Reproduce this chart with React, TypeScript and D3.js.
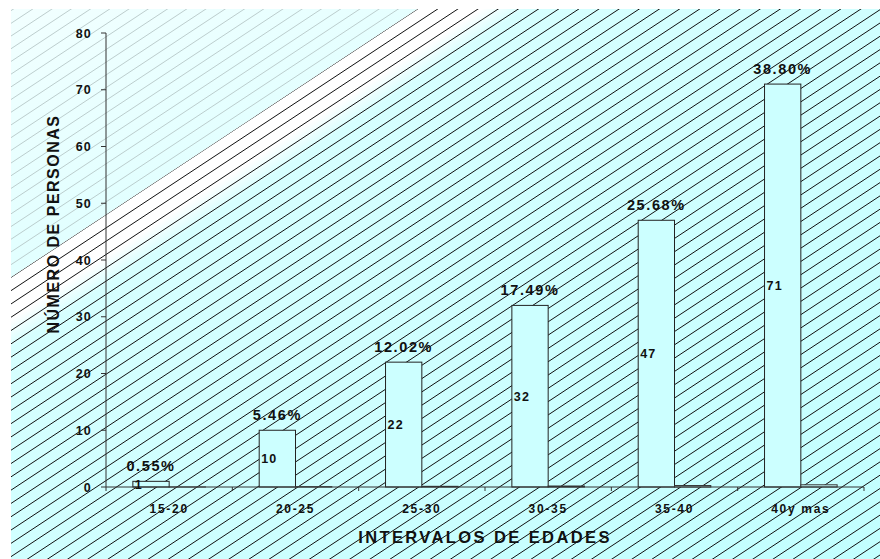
import React from 'react';
import * as d3 from 'd3';

// Age intervals and the number of people in each
const categories = ['15-20', '20-25', '25-30', '30-35', '35-40', '40y mas'];
const counts = [1, 10, 22, 32, 47, 71];
// Share of the total, in percent (also plotted as a fraction on the same axis)
const percents = [0.55, 5.46, 12.02, 17.49, 25.68, 38.8];
const yTicks = [0, 10, 20, 30, 40, 50, 60, 70, 80];

const W = 880;
const H = 559;
const FONT = '"Liberation Sans", Arial, sans-serif';

// Chart-area frame
const bgX0 = 11;
const bgY0 = 9;

// Plot area
const plot = { left: 106, right: 864, top: 33, bottom: 487 };

// Background hatching: lines of the form y + k*x = c
const K = 0.66;
const C0 = 284.6; // border between the light and the hatched zone
const darkStep = 13.3;
const lightStep = 12.7;

export default function App() {
  const y = d3.scaleLinear().domain([0, 80]).range([plot.bottom, plot.top]);
  const x = d3.scaleBand<string>().domain(categories).range([plot.left, plot.right]).paddingInner(0).paddingOuter(0);
  const inner = d3
    .scaleBand<string>()
    .domain(['count', 'share'])
    .range([0, x.bandwidth()])
    .paddingInner(0)
    .paddingOuter(0.74);

  const maxC = H + K * W;
  const darkLines = d3.range(C0, maxC + darkStep, darkStep);
  const lightLines = d3.range(C0 - lightStep, bgY0 + K * bgX0 - lightStep, -lightStep);

  const yLeftEdge = C0 - K * bgX0; // y where the border meets the left edge
  const xTopEdge = (C0 - bgY0) / K; // x where the border meets the top edge

  const lowerPoly = [
    [bgX0, yLeftEdge],
    [xTopEdge, bgY0],
    [W, bgY0],
    [W, H],
    [bgX0, H],
  ];
  const upperPoly = [
    [bgX0, bgY0],
    [xTopEdge, bgY0],
    [bgX0, yLeftEdge],
  ];
  const pts = (p: number[][]) => p.map((d) => d.join(',')).join(' ');

  // unit normal to the hatch lines, pointing into the hatched zone
  const nLen = Math.sqrt(K * K + 1);
  const nx = K / nLen;
  const ny = 1 / nLen;
  const gx0 = 110;
  const gy0 = C0 - K * gx0;

  const lineSeg = (c: number) => {
    const x1 = bgX0 - 5;
    const x2 = W + 5;
    return { x1, y1: c - K * x1, x2, y2: c - K * x2 };
  };

  return (
    <div style={{ position: 'fixed', left: 0, top: 0 }}>
      <svg width={W} height={H} style={{ display: 'block', background: '#fff' }}>
        <defs>
          <clipPath id="bgClip">
            <rect x={bgX0} y={bgY0} width={W - bgX0} height={H - bgY0} />
          </clipPath>
          <clipPath id="lowerClip">
            <polygon points={pts(lowerPoly)} />
          </clipPath>
          <clipPath id="upperClip">
            <polygon points={pts(upperPoly)} />
          </clipPath>
          <linearGradient
            id="lowerFill"
            gradientUnits="userSpaceOnUse"
            x1={gx0}
            y1={gy0}
            x2={gx0 + nx * 700}
            y2={gy0 + ny * 700}
          >
            <stop offset="0" stopColor="#ffffff" />
            <stop offset="0.05" stopColor="#ffffff" />
            <stop offset="0.085" stopColor="#d6ffff" />
            <stop offset="1" stopColor="#c2ffff" />
          </linearGradient>
          <linearGradient id="upperFill" gradientUnits="userSpaceOnUse" x1={bgX0} y1={bgY0} x2={gx0} y2={gy0}>
            <stop offset="0" stopColor="#f2ffff" />
            <stop offset="1" stopColor="#e2ffff" />
          </linearGradient>
        </defs>

        {/* background */}
        <g clipPath="url(#bgClip)">
          <polygon points={pts(upperPoly)} fill="url(#upperFill)" />
          <polygon points={pts(lowerPoly)} fill="url(#lowerFill)" />
          <g clipPath="url(#upperClip)">
            {lightLines.map((c, i) => {
              const s = lineSeg(c);
              return <line key={i} {...s} stroke="#b0c0c0" strokeWidth={0.8} />;
            })}
          </g>
          <g clipPath="url(#lowerClip)">
            {darkLines.map((c, i) => {
              const s = lineSeg(c);
              return <line key={i} {...s} stroke="#111" strokeWidth={1} />;
            })}
          </g>
        </g>

        {/* y axis */}
        <line x1={plot.left} x2={plot.left} y1={y(80)} y2={y(0)} stroke="#333" strokeWidth={1} />
        {yTicks.map((t) => (
          <g key={t}>
            <line x1={plot.left - 5} x2={plot.left} y1={y(t)} y2={y(t)} stroke="#333" />
            <text
              x={92}
              y={y(t)}
              dy="0.36em"
              textAnchor="end"
              fontFamily={FONT}
              fontWeight="bold"
              fontSize={12.5}
              letterSpacing={1.2}
              fill="#111"
            >
              {t}
            </text>
          </g>
        ))}

        {/* bars: counts and shares */}
        {categories.map((cat, i) => {
          const bx = (x(cat) as number) + (inner('count') as number);
          const sx = (x(cat) as number) + (inner('share') as number);
          const bw = inner.bandwidth();
          const top = y(counts[i]);
          const stop = y(percents[i] / 100);
          return (
            <g key={cat}>
              <rect
                x={bx}
                y={top}
                width={bw}
                height={y(0) - top}
                fill="#ccffff"
                stroke="#222"
                strokeWidth={1}
              />
              <rect
                x={sx}
                y={stop}
                width={bw}
                height={Math.max(0, y(0) - stop)}
                fill="#ccffff"
                stroke="#333"
                strokeWidth={1}
              />
            </g>
          );
        })}

        {/* x axis */}
        <line x1={plot.left} x2={plot.right} y1={y(0)} y2={y(0)} stroke="#333" strokeWidth={1} />
        {categories.map((cat) => (
          <line
            key={cat}
            x1={x(cat) as number}
            x2={x(cat) as number}
            y1={y(0)}
            y2={y(0) + 4}
            stroke="#333"
          />
        ))}
        <line x1={plot.right} x2={plot.right} y1={y(0)} y2={y(0) + 4} stroke="#333" />
        {categories.map((cat) => (
          <text
            key={cat}
            x={(x(cat) as number) + x.bandwidth() / 2}
            y={513}
            textAnchor="middle"
            fontFamily={FONT}
            fontWeight="bold"
            fontSize={12}
            letterSpacing={1.7}
            fill="#111"
          >
            {cat}
          </text>
        ))}

        {/* value labels inside the bars */}
        {categories.map((cat, i) => {
          const bx = (x(cat) as number) + (inner('count') as number);
          const mid = (y(counts[i]) + y(0)) / 2;
          return (
            <text
              key={cat}
              x={bx + 2}
              y={mid}
              dy="0.36em"
              fontFamily={FONT}
              fontWeight="bold"
              fontSize={12.5}
              letterSpacing={1.2}
              fill="#111"
            >
              {counts[i]}
            </text>
          );
        })}

        {/* percentage labels above the bars */}
        {categories.map((cat, i) => {
          const cx = (x(cat) as number) + (inner('count') as number) + inner.bandwidth() / 2;
          return (
            <text
              key={cat}
              x={cx}
              y={y(counts[i]) - 10}
              textAnchor="middle"
              fontFamily={FONT}
              fontWeight="bold"
              fontSize={14.5}
              letterSpacing={1.6}
              fill="#111"
            >
              {percents[i].toFixed(2) + '%'}
            </text>
          );
        })}

        {/* axis titles */}
        <text
          x={485}
          y={543}
          textAnchor="middle"
          fontFamily={FONT}
          fontWeight="bold"
          fontSize={16.5}
          letterSpacing={2.4}
          fill="#111"
        >
          INTERVALOS DE EDADES
        </text>
        <text
          transform={`translate(59,224) rotate(-90)`}
          textAnchor="middle"
          fontFamily={FONT}
          fontWeight="bold"
          fontSize={16}
          letterSpacing={1.5}
          fill="#111"
        >
          NÚMERO DE PERSONAS
        </text>
      </svg>
    </div>
  );
}
